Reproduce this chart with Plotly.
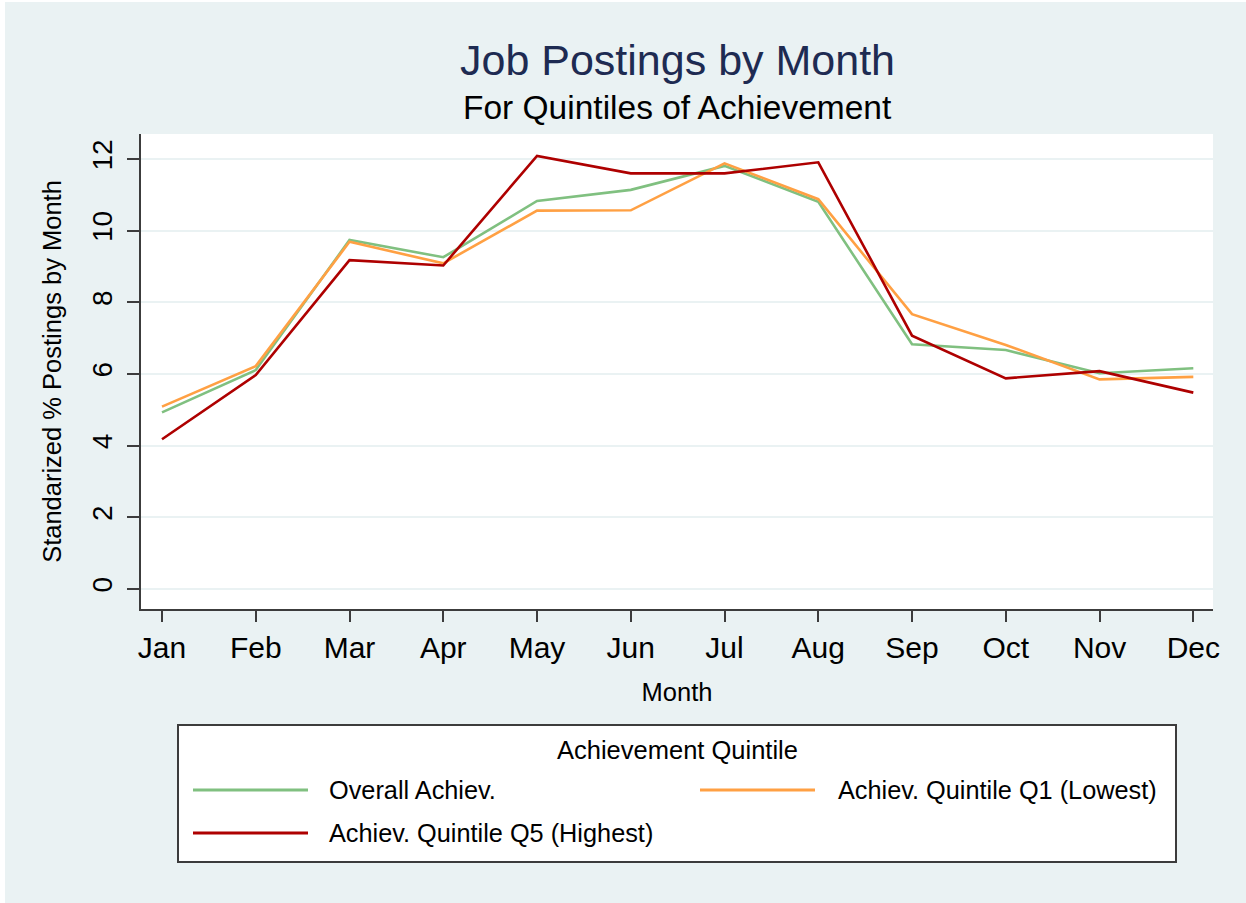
import plotly.graph_objects as go

months = ["Jan", "Feb", "Mar", "Apr", "May", "Jun", "Jul", "Aug", "Sep", "Oct", "Nov", "Dec"]
overall = [4.93, 6.11, 9.74, 9.26, 10.83, 11.14, 11.81, 10.81, 6.83, 6.67, 6.02, 6.16]
q1_lowest = [5.09, 6.22, 9.69, 9.09, 10.56, 10.57, 11.88, 10.88, 7.67, 6.81, 5.85, 5.92]
q5_highest = [4.18, 5.97, 9.18, 9.03, 12.09, 11.60, 11.60, 11.91, 7.07, 5.88, 6.08, 5.48]
y_ticks = [0, 2, 4, 6, 8, 10, 12]

series_names = ["Overall Achiev.", "Achiev. Quintile Q1 (Lowest)", "Achiev. Quintile Q5 (Highest)"]
series_colors = ["#80C080", "#FFA043", "#AE0000"]

W, H = 1246, 903
L, R, T, B = 141, 1213, 134, 609
BG = "#EAF2F3"
FONT = "Arial, Liberation Sans, sans-serif"


def px(x):
    return (x - L) / (R - L)


def py(y):
    return (B - y) / (B - T)


fig = go.Figure()
for name, vals, col in zip(series_names, [overall, q1_lowest, q5_highest], series_colors):
    fig.add_trace(go.Scatter(x=months, y=vals, mode="lines", name=name,
                             line=dict(color=col, width=2.6), showlegend=False))

shapes = [
    # legend box
    dict(type="rect", xref="paper", yref="paper", x0=px(178), x1=px(1176), y0=py(862), y1=py(725),
         fillcolor="white", line=dict(color="#3C3C3C", width=2)),
    # white outer edges
    dict(type="rect", xref="paper", yref="paper", x0=px(0), x1=px(5), y0=py(H), y1=py(0),
         fillcolor="white", line=dict(width=0)),
    dict(type="rect", xref="paper", yref="paper", x0=px(0), x1=px(W), y0=py(2), y1=py(0),
         fillcolor="white", line=dict(width=0)),
]
# legend samples
leg_pos = [(193, 308, 790), (700, 815, 790), (193, 308, 833)]
for (x0, x1, yy), col in zip(leg_pos, series_colors):
    shapes.append(dict(type="line", xref="paper", yref="paper", x0=px(x0), x1=px(x1), y0=py(yy), y1=py(yy),
                       line=dict(color=col, width=3.2)))

annotations = [
    dict(text="Job Postings by Month", xref="paper", yref="paper", x=0.5, y=py(60), showarrow=False,
         xanchor="center", yanchor="middle", font=dict(size=43, color="#1E2B52", family=FONT)),
    dict(text="For Quintiles of Achievement", xref="paper", yref="paper", x=0.5, y=py(107), showarrow=False,
         xanchor="center", yanchor="middle", font=dict(size=33.5, color="black", family=FONT)),
    dict(text="Achievement Quintile", xref="paper", yref="paper", x=px(677), y=py(750), showarrow=False,
         xanchor="center", yanchor="middle", font=dict(size=25.5, color="black", family=FONT)),
]
text_pos = [(327, 790), (836, 790), (327, 833)]
for (tx, ty), name in zip(text_pos, series_names):
    annotations.append(dict(text=name, xref="paper", yref="paper", x=px(tx), y=py(ty), showarrow=False,
                            xanchor="left", yanchor="middle", font=dict(size=25.3, color="black", family=FONT)))

fig.update_layout(
    width=W, height=H,
    margin=dict(l=L, r=W - R, t=T, b=H - B, pad=0),
    paper_bgcolor=BG, plot_bgcolor="white",
    font=dict(family=FONT, color="black"),
    shapes=shapes, annotations=annotations,
    showlegend=False,
)
fig.update_xaxes(
    type="category", range=[-0.224, 11.21],
    showline=True, linecolor="#3C3C3C", linewidth=2,
    ticks="outside", ticklen=11, tickwidth=1.5, tickcolor="#3C3C3C",
    tickfont=dict(size=30, color="black"), showgrid=False, zeroline=False,
    title=dict(text="Month", font=dict(size=25.5, color="black"), standoff=20),
)
fig.update_yaxes(
    range=[-0.56, 12.70], tickvals=y_ticks, tickangle=-90,
    showline=True, linecolor="#3C3C3C", linewidth=2,
    ticks="outside", ticklen=12, tickwidth=1.5, tickcolor="#3C3C3C",
    tickfont=dict(size=28, color="black"), ticklabelstandoff=4,
    showgrid=True, gridcolor=BG, gridwidth=2, zeroline=False,
    title=dict(text="Standarized % Postings by Month", font=dict(size=25.5, color="black"), standoff=18),
)

fig.write_html("out.html", config={"displayModeBar": False},
               post_script="document.body.style.margin='0px';document.body.style.overflow='hidden';")
